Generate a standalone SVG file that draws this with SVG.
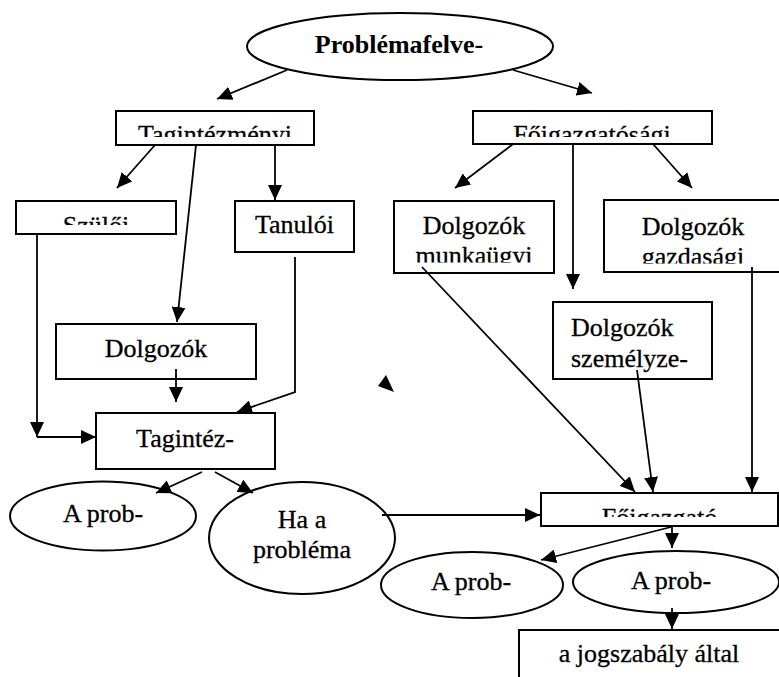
<svg xmlns="http://www.w3.org/2000/svg" width="779" height="677" viewBox="0 0 779 677">
  <style>
    .box { fill: #fff; stroke: #000; stroke-width: 2; }
    .ell { fill: #fff; stroke: #000; stroke-width: 2; }
    .lbl { font-family: "Liberation Serif", "Times New Roman", serif; font-size: 26px; font-weight: normal; fill: #000; stroke: #000; stroke-width: 0.3; text-anchor: middle; }
    .lft { text-anchor: start; }
    .bold { font-weight: bold; stroke: none; }
    .edge { fill: none; stroke: #000; stroke-width: 1.8; }
    .edge.arr { marker-end: url(#ah); }
  </style>
  <defs>
    <marker id="ah" markerUnits="userSpaceOnUse" viewBox="0 0 15 14" markerWidth="15" markerHeight="14" refX="15" refY="7" orient="auto">
      <path d="M0,0 L15,7 L0,14 z" fill="#000"/>
    </marker>
    <!-- inner text areas of the boxes whose labels overflow -->
    <clipPath id="c-tagint"><rect x="117" y="112" width="196" height="25"/></clipPath>
    <clipPath id="c-foig"><rect x="474" y="112" width="237" height="25"/></clipPath>
    <clipPath id="c-szuloi"><rect x="17" y="202" width="158" height="23"/></clipPath>
    <clipPath id="c-munka"><rect x="395" y="202" width="158" height="60.5"/></clipPath>
    <clipPath id="c-gazd"><rect x="605" y="201" width="178" height="62.5"/></clipPath>
    <clipPath id="c-foigazgato"><rect x="542" y="494" width="235" height="23"/></clipPath>
  </defs>

  <!-- nodes -->
  <g id="n-problemafelvetel">
    <ellipse class="ell" cx="400" cy="46.5" rx="153" ry="33.5"/>
    <text class="lbl bold" x="399" y="53">Problémafelve-</text>
  </g>
  <g id="n-tagintezmenyi">
    <rect class="box" x="116" y="111" width="198" height="34"/>
    <text class="lbl" x="215" y="143" clip-path="url(#c-tagint)">Tagintézményi</text>
  </g>
  <g id="n-foigazgatosagi">
    <rect class="box" x="473" y="111" width="239" height="33"/>
    <text class="lbl" x="592" y="143" clip-path="url(#c-foig)">Főigazgatósági</text>
  </g>
  <g id="n-szuloi">
    <rect class="box" x="16" y="201" width="160" height="33"/>
    <text class="lbl" x="96" y="234" clip-path="url(#c-szuloi)">Szülői</text>
  </g>
  <g id="n-tanuloi">
    <rect class="box" x="235" y="201" width="119" height="51"/>
    <text class="lbl" x="294.5" y="233">Tanulói</text>
  </g>
  <g id="n-munkaugyi">
    <rect class="box" x="394" y="201" width="160" height="72"/>
    <g clip-path="url(#c-munka)">
      <text class="lbl" x="474" y="234">Dolgozók</text>
      <text class="lbl" x="474" y="264">munkaügyi</text>
    </g>
  </g>
  <g id="n-gazdasagi">
    <rect class="box" x="604" y="200" width="180" height="72"/>
    <g clip-path="url(#c-gazd)">
      <text class="lbl" x="693" y="235">Dolgozók</text>
      <text class="lbl" x="693" y="265">gazdasági</text>
    </g>
  </g>
  <g id="n-szemelyzeti">
    <rect class="box" x="553" y="302" width="159" height="77"/>
    <text class="lbl lft" x="571" y="336">Dolgozók</text>
    <text class="lbl lft" x="571" y="366.5">személyze-</text>
  </g>
  <g id="n-dolgozok">
    <rect class="box" x="56" y="324" width="200" height="55"/>
    <text class="lbl" x="156" y="357">Dolgozók</text>
  </g>
  <g id="n-tagintez">
    <rect class="box" x="96" y="413" width="179" height="56"/>
    <text class="lbl" x="185" y="447">Tagintéz-</text>
  </g>
  <g id="n-aprob-1">
    <ellipse class="ell" cx="103" cy="516" rx="93" ry="34.5"/>
    <text class="lbl" x="103" y="522">A prob-</text>
  </g>
  <g id="n-haa">
    <ellipse class="ell" cx="302" cy="538" rx="93" ry="56"/>
    <text class="lbl" x="302" y="528">Ha a</text>
    <text class="lbl" x="302" y="558">probléma</text>
  </g>
  <g id="n-foigazgato">
    <rect class="box" x="541" y="493" width="237" height="33"/>
    <text class="lbl" x="659.5" y="526" clip-path="url(#c-foigazgato)">Főigazgató</text>
  </g>
  <g id="n-aprob-2">
    <ellipse class="ell" cx="472" cy="585" rx="91" ry="33"/>
    <text class="lbl" x="471" y="590">A prob-</text>
  </g>
  <g id="n-aprob-3">
    <ellipse class="ell" cx="676" cy="582" rx="103" ry="31"/>
    <text class="lbl" x="671" y="589">A prob-</text>
  </g>
  <g id="n-jogszabaly">
    <rect class="box" x="519" y="630" width="262" height="60"/>
    <text class="lbl" x="649" y="662">a jogszabály által</text>
  </g>

  <!-- connectors -->
  <g id="connectors">
    <path class="edge arr" d="M287,70 L217,99"/>
    <path class="edge arr" d="M513,70 L592,93"/>
    <path class="edge arr" d="M155,145 L117,188"/>
    <path class="edge arr" d="M196,145 L177,322"/>
    <path class="edge arr" d="M275,145 L275,200"/>
    <path class="edge arr" d="M37,234 L37,437"/>
    <path class="edge arr" d="M37,437 L96,437"/>
    <path class="edge arr" d="M295,257 L295,392 L237,412"/>
    <path class="edge arr" d="M176,369 L176,402"/>
    <path class="edge arr" d="M202,472 L156,493"/>
    <path class="edge arr" d="M215,472 L253,493"/>
    <path class="edge arr" d="M382,515 L540,515"/>
    <path class="edge arr" d="M513,144 L455,188"/>
    <path class="edge arr" d="M573,144 L573,289"/>
    <path class="edge arr" d="M653,144 L692,188"/>
    <path class="edge arr" d="M422,267 L635,492"/>
    <path class="edge arr" d="M637,370 L653,492"/>
    <path class="edge arr" d="M752,267 L752,492"/>
    <path class="edge arr" d="M671,527 L541,560"/>
    <path class="edge arr" d="M672,527 L672,548"/>
    <path class="edge arr" d="M672,608 L672,629"/>
    <polygon points="386,375 394,392 378,386" fill="#000"/>
  </g>
</svg>
